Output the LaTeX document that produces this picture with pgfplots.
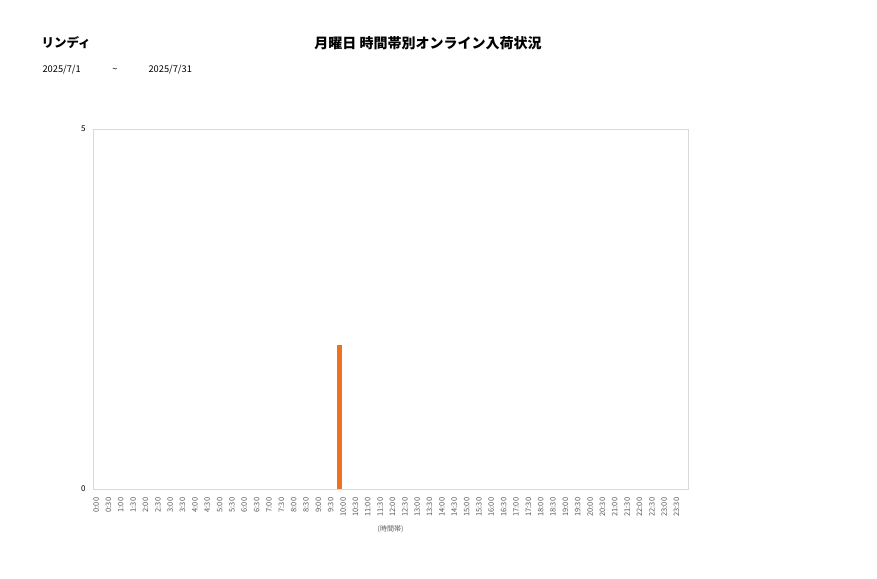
\documentclass[border=0pt]{standalone}
\usepackage{fontspec}
\setmainfont{Noto Sans CJK JP}
\usepackage{pgfplots}
\pgfplotsset{compat=1.18}
\definecolor{barorange}{RGB}{237,113,32}
\definecolor{framegray}{RGB}{217,217,217}
\definecolor{txtgray}{RGB}{89,89,89}

\begin{document}
\begin{tikzpicture}[x=1pt,y=1pt]
    % page frame (877 x 578)
    \path (0,0) rectangle (877,578);
    \node[anchor=west,font=\fontsize{12.5}{12.5}\selectfont\bfseries] at (38,535) {リンディ};
    \node[font=\fontsize{14}{14}\selectfont\bfseries] at (428,535) {月曜日 時間帯別オンライン入荷状況};
    \node[anchor=west,font=\fontsize{9.3}{9.3}\selectfont] at (39,508) {2025/7/1};
    \node[font=\fontsize{9.3}{9.3}\selectfont] at (115,508) {\string~};
    \node[anchor=west,font=\fontsize{9.3}{9.3}\selectfont] at (145,508) {2025/7/31};
    \begin{axis}[
        at={(93pt,89pt)}, anchor=south west,
        width=595pt, height=360pt,
        scale only axis,
        /pgf/number format/assume math mode=true,
        ybar,
        bar width=4.4pt,
        bar shift=-3.6pt,
        xmin=-0.25, xmax=47.93,
        ymin=0, ymax=5,
        ytick={0,5},
        xtick={0,...,47},
        xticklabels={0:00,0:30,1:00,1:30,2:00,2:30,3:00,3:30,4:00,4:30,5:00,5:30,
            6:00,6:30,7:00,7:30,8:00,8:30,9:00,9:30,10:00,10:30,11:00,11:30,
            12:00,12:30,13:00,13:30,14:00,14:30,15:00,15:30,16:00,16:30,17:00,17:30,
            18:00,18:30,19:00,19:30,20:00,20:30,21:00,21:30,22:00,22:30,23:00,23:30},
        x tick label style={rotate=90, anchor=east, font=\fontsize{7.5}{7.5}\selectfont, text=txtgray, xshift=-1pt},
        y tick label style={font=\fontsize{8}{8}\selectfont, text=black, xshift=-4pt},
        xtick style={draw=none}, ytick style={draw=none},
        axis line style={framegray, line width=0.8pt},
        xlabel={(時間帯)},
        xlabel style={font=\fontsize{7}{7}\selectfont, text=txtgray, yshift=-2pt},
    ]
    \addplot[fill=barorange, draw=none] coordinates {(20,2)};
    \end{axis}
\end{tikzpicture}
\end{document}
